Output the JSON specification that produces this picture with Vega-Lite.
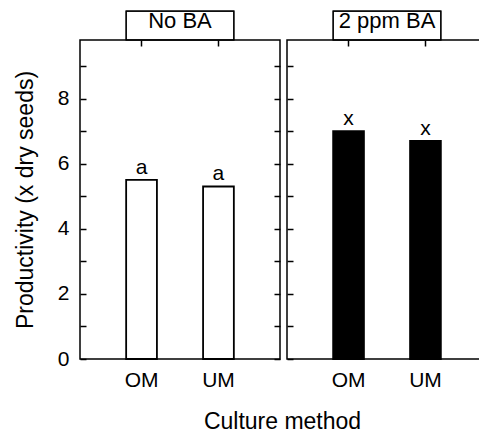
{
  "$schema": "https://vega.github.io/schema/vega-lite/v6.json",
  "padding": {"left": 13, "top": 9, "right": 0, "bottom": 5},
  "background": "white",
  "config": {
    "font": "Liberation Sans",
    "view": {"stroke": "black", "strokeWidth": 1.5},
    "axis": {"domainColor": "black", "tickColor": "black", "labelColor": "black", "titleColor": "black", "labelFont": "Liberation Sans", "titleFont": "Liberation Sans", "labelFontSize": 21, "titleFontSize": 23, "titleFontWeight": "normal", "grid": false, "domainWidth": 1.5, "tickWidth": 1.5},
    "title": {"font": "Liberation Sans", "fontSize": 22, "fontWeight": "normal", "color": "black", "anchor": "middle", "baseline": "alphabetic", "offset": -23}
  },
  "datasets": {
    "bars": [
      {"treatment": "No BA", "method": "OM", "value": 5.5, "letter": "a"},
      {"treatment": "No BA", "method": "UM", "value": 5.3, "letter": "a"},
      {"treatment": "2 ppm BA", "method": "OM", "value": 7.0, "letter": "x"},
      {"treatment": "2 ppm BA", "method": "UM", "value": 6.7, "letter": "x"}
    ]
  },
  "spacing": 7,
  "bounds": "flush",
  "hconcat": [
    {
      "width": 200, "height": 319,
      "data": {"name": "bars"},
      "transform": [{"filter": "datum.treatment == 'No BA'"}],
      "title": {"text": "No BA"},
      "layer": [
        {
          "mark": {"type": "bar", "fill": "white", "stroke": "black", "strokeWidth": 1.8},
          "encoding": {
            "x": {"field": "method", "type": "nominal", "sort": ["OM", "UM"], "scale": {"paddingInner": 0.6, "paddingOuter": 0.6}, "axis": {"orient": "bottom", "title": "Culture method", "titleX": 202, "titlePadding": 20, "ticks": false, "labelAngle": 0, "labelPadding": 10, "domain": false}},
            "y": {"field": "value", "type": "quantitative", "scale": {"domain": [0, 9.8], "nice": false}, "axis": {"title": "Productivity (x dry seeds)", "values": [0, 1, 2, 3, 4, 5, 6, 7, 8, 9], "labelExpr": "datum.value % 2 == 0 ? datum.label : ''", "tickSize": -6, "labelPadding": 17, "titlePadding": 20, "domain": false}}
          }
        },
        {
          "mark": {"type": "text", "baseline": "alphabetic", "dy": -6, "fontSize": 21, "color": "black"},
          "encoding": {
            "x": {"field": "method", "type": "nominal", "sort": ["OM", "UM"], "scale": {"paddingInner": 0.6, "paddingOuter": 0.6}, "axis": {"orient": "top", "title": null, "labels": false, "tickSize": -6, "domain": false}},
            "y": {"field": "value", "type": "quantitative", "scale": {"domain": [0, 9.8], "nice": false}, "axis": {"orient": "right", "title": null, "labels": false, "values": [0, 1, 2, 3, 4, 5, 6, 7, 8, 9], "tickSize": -6, "domain": false}},
            "text": {"field": "letter"}
          }
        },
        {
          "mark": {"type": "rect", "filled": false, "stroke": "black", "strokeWidth": 1.2},
          "encoding": {
            "x": {"datum": "OM", "bandPosition": 0, "axis": null},
            "x2": {"datum": "UM", "bandPosition": 1},
            "y": {"datum": 9.8, "axis": null},
            "y2": {"datum": 10.69}
          }
        }
      ],
      "resolve": {"axis": {"x": "independent", "y": "independent"}}
    },
    {
      "width": 200, "height": 319,
      "data": {"name": "bars"},
      "transform": [{"filter": "datum.treatment == '2 ppm BA'"}],
      "title": {"text": "2 ppm BA"},
      "layer": [
        {
          "mark": {"type": "bar", "fill": "black", "stroke": "black", "strokeWidth": 1.8},
          "encoding": {
            "x": {"field": "method", "type": "nominal", "sort": ["OM", "UM"], "scale": {"paddingInner": 0.6, "paddingOuter": 0.6}, "axis": {"orient": "bottom", "title": null, "ticks": false, "labelAngle": 0, "labelPadding": 10, "domain": false}},
            "y": {"field": "value", "type": "quantitative", "scale": {"domain": [0, 9.8], "nice": false}, "axis": {"title": null, "labels": false, "values": [0, 1, 2, 3, 4, 5, 6, 7, 8, 9], "tickSize": -6, "domain": false}}
          }
        },
        {
          "mark": {"type": "text", "baseline": "alphabetic", "dy": -6, "fontSize": 21, "color": "black"},
          "encoding": {
            "x": {"field": "method", "type": "nominal", "sort": ["OM", "UM"], "scale": {"paddingInner": 0.6, "paddingOuter": 0.6}, "axis": {"orient": "top", "title": null, "labels": false, "tickSize": -6, "domain": false}},
            "y": {"field": "value", "type": "quantitative", "scale": {"domain": [0, 9.8], "nice": false}, "axis": {"orient": "right", "title": null, "labels": false, "values": [0, 1, 2, 3, 4, 5, 6, 7, 8, 9], "tickSize": -6, "domain": false}},
            "text": {"field": "letter"}
          }
        },
        {
          "mark": {"type": "rect", "filled": false, "stroke": "black", "strokeWidth": 1.2},
          "encoding": {
            "x": {"datum": "OM", "bandPosition": 0, "axis": null},
            "x2": {"datum": "UM", "bandPosition": 1},
            "y": {"datum": 9.8, "axis": null},
            "y2": {"datum": 10.69}
          }
        }
      ],
      "resolve": {"axis": {"x": "independent", "y": "independent"}}
    }
  ]
}
